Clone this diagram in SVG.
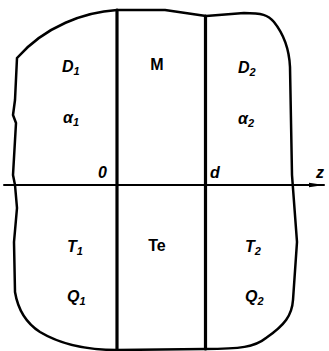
<svg xmlns="http://www.w3.org/2000/svg" width="329" height="351" viewBox="0 0 329 351">
<defs>
<style>
.ln{fill:none;stroke:#000;stroke-linejoin:round;stroke-linecap:round}
.t{font-family:"Liberation Sans",Arial,sans-serif;font-weight:bold;font-size:16px;fill:#000}
.i{font-style:italic}
.s{font-size:11px}
</style>
<marker id="ar" markerWidth="16" markerHeight="7" refX="15" refY="3.5" orient="auto" markerUnits="userSpaceOnUse">
<path d="M0,1.3 L15,3.5 L0,5.7 Z" fill="#000"/>
</marker>
</defs>
<rect width="329" height="351" fill="#fff"/>
<g id="outline">
<path class="ln" stroke-width="2.5" d="M117,10 C85,12 45,26 17,58 L15,100 L13,115 L16,123 L13,175 L15,185 L17,208 L14,242 L15,292 C18,310 26,323 40,332 C60,344 85,350 117,350 L205,349 C240,349 255,347 266,338 C285,325 292,315 293,300 L297,242 L292,175 L290,67 C289,45 282,32 274,22 C268,15 262,13 244,13 L206,16 L165,10 Z"/>
</g>
<g id="connectors">
<line class="ln" stroke-width="3.2" x1="117" y1="10" x2="117" y2="350"/>
<line class="ln" stroke-width="3.2" x1="205.5" y1="16" x2="205.5" y2="349"/>
<line class="ln" stroke-width="2" x1="4" y1="185" x2="324" y2="185" marker-end="url(#ar)"/>
</g>
<g id="left-medium">
<text class="t i" x="62" y="72">D<tspan class="s" dy="3">1</tspan></text>
<text class="t i" x="63" y="123">α<tspan class="s" dy="3">1</tspan></text>
<text class="t i" x="67" y="252">T<tspan class="s" dy="3">1</tspan></text>
<text class="t i" x="67" y="302">Q<tspan class="s" dy="3">1</tspan></text>
</g>
<g id="middle-layer">
<text class="t" x="157" y="70" text-anchor="middle">M</text>
<text class="t" x="157" y="251" text-anchor="middle">Te</text>
</g>
<g id="right-medium">
<text class="t i" x="238" y="73">D<tspan class="s" dy="3">2</tspan></text>
<text class="t i" x="238" y="124">α<tspan class="s" dy="3">2</tspan></text>
<text class="t i" x="245" y="252">T<tspan class="s" dy="3">2</tspan></text>
<text class="t i" x="245" y="302">Q<tspan class="s" dy="3">2</tspan></text>
</g>
<g id="axis-labels">
<text class="t i" x="98" y="178">0</text>
<text class="t i" x="210" y="178">d</text>
<text class="t i" x="316" y="178">z</text>
</g>
</svg>
